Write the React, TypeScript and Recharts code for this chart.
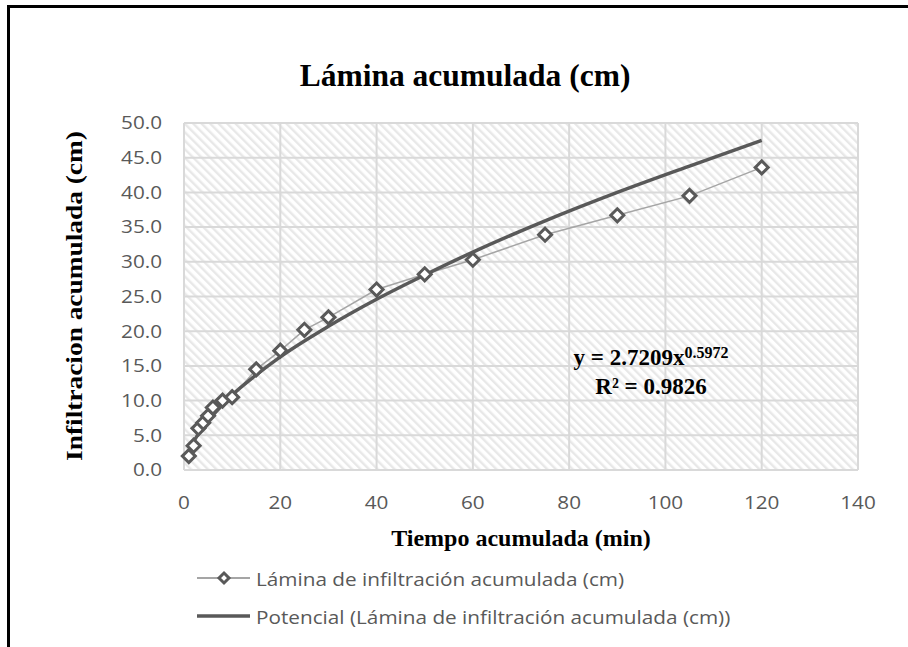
import React from 'react'
import { LineChart, Line, XAxis, YAxis, CartesianGrid } from 'recharts'

const tiempo = [1, 2, 3, 4, 5, 6, 8, 10, 15, 20, 25, 30, 40, 50, 60, 75, 90, 105, 120]
const lamina = [2.0, 3.5, 6.0, 6.8, 7.8, 9.0, 10.0, 10.5, 14.5, 17.2, 20.2, 22.0, 26.0, 28.2, 30.3, 33.9, 36.7, 39.5, 43.6]

// línea de tendencia potencial
const tiempoTendencia = [1, 2, 3, 5, 8, 10, 15, 20, 30, 40, 50, 60, 75, 90, 105, 120]
const laminaTendencia = [2.7, 4.1, 5.2, 7.1, 9.4, 10.8, 13.7, 16.3, 20.7, 24.6, 28.1, 31.4, 35.9, 40.0, 43.8, 47.5]

const xTicks = [0, 20, 40, 60, 80, 100, 120, 140]
const yTicks = [0, 5, 10, 15, 20, 25, 30, 35, 40, 45, 50]

const nombreSerie = 'Lámina de infiltración acumulada (cm)'
const nombreTendencia = 'Potencial (Lámina de infiltración acumulada (cm))'

const puntos = tiempo.map((t, i) => ({ t, v: lamina[i] }))
const tendencia = tiempoTendencia.map((t, i) => ({ t, v: laminaTendencia[i] }))

const gris = '#595959'
const serif = '"Liberation Serif", "Times New Roman", serif'
const sans = '"Open Sans", sans-serif'

const Diamond = (props: any) => {
  const { cx, cy, index } = props
  const r = 6.5
  return (
    <path
      key={`d-${index}`}
      d={`M${cx},${cy - r}L${cx + r},${cy}L${cx},${cy + r}L${cx - r},${cy}Z`}
      fill="#fff"
      stroke={gris}
      strokeWidth={3}
    />
  )
}

// etiquetas un poco ensanchadas, como en la imagen original
const TickX = (props: any) => {
  const { x, y, payload } = props
  return (
    <text transform={`translate(${x},${y}) scale(1.15,1)`} textAnchor="middle" dy="0.71em" fill={gris} fontSize={18} fontFamily={sans}>
      {payload.value}
    </text>
  )
}

const TickY = (props: any) => {
  const { x, y, payload } = props
  return (
    <text transform={`translate(${x},${y}) scale(1.15,1)`} textAnchor="end" dy="0.355em" fill={gris} fontSize={18} fontFamily={sans}>
      {Number(payload.value).toFixed(1)}
    </text>
  )
}

const textoLeyenda: React.CSSProperties = {
  whiteSpace: 'nowrap',
  display: 'inline-block',
  transform: 'scaleX(1.12)',
  transformOrigin: 'left center',
}

const Leyenda = () => (
  <div style={{ position: 'absolute', left: 197, top: 559, fontFamily: sans, fontSize: 18.5, color: gris }}>
    <div style={{ display: 'flex', alignItems: 'center', height: 38 }}>
      <svg width={59} height={20} style={{ flex: 'none' }}>
        <line x1={0} y1={10} x2={53} y2={10} stroke="#a5a5a5" strokeWidth={2} />
        <path d="M27,5L32,10L27,15L22,10Z" fill="#fff" stroke={gris} strokeWidth={3} />
      </svg>
      <span style={textoLeyenda}>{nombreSerie}</span>
    </div>
    <div style={{ display: 'flex', alignItems: 'center', height: 38 }}>
      <svg width={59} height={20} style={{ flex: 'none' }}>
        <line x1={0} y1={10} x2={53} y2={10} stroke={gris} strokeWidth={3.5} />
      </svg>
      <span style={textoLeyenda}>{nombreTendencia}</span>
    </div>
  </div>
)

export default function App() {
  return (
    <div style={{ position: 'absolute', left: 0, top: 0, width: 908, height: 647, background: '#fff', overflow: 'hidden' }}>
      <div
        style={{
          position: 'absolute',
          left: 7,
          top: 5,
          width: 910,
          height: 660,
          borderTop: '3px solid #000',
          borderLeft: '3px solid #000',
        }}
      />
      <LineChart
        width={908}
        height={647}
        margin={{ top: 123, right: 50, bottom: 147, left: 124 }}
        style={{ position: 'absolute', left: 0, top: 0 }}
      >
        <defs>
          <pattern id="hatch" patternUnits="userSpaceOnUse" width={6} height={6} patternTransform="rotate(-45)">
            <rect x={0} y={0} width={6} height={6} fill="#fff" />
            <rect x={0} y={0} width={2.4} height={6} fill="#e8e8e8" />
          </pattern>
        </defs>
        <CartesianGrid fill="url(#hatch)" stroke="#d9d9d9" strokeWidth={2} fillOpacity={1} />
        <XAxis
          dataKey="t"
          type="number"
          domain={[0, 140]}
          ticks={xTicks}
          axisLine={false}
          tickLine={false}
          tickSize={6}
          tickMargin={20}
          height={30}
          tick={<TickX />}
        />
        <YAxis
          type="number"
          domain={[0, 50]}
          ticks={yTicks}
          axisLine={false}
          tickLine={false}
          width={60}
          tickSize={6}
          tickMargin={16}
          tick={<TickY />}
        />
        <Line
          data={puntos}
          dataKey="v"
          name={nombreSerie}
          type="linear"
          stroke="#a5a5a5"
          strokeWidth={1.5}
          dot={Diamond}
          activeDot={false}
          isAnimationActive={false}
        />
        <Line
          data={tendencia}
          dataKey="v"
          name={nombreTendencia}
          type="monotone"
          stroke={gris}
          strokeWidth={3.5}
          dot={false}
          activeDot={false}
          isAnimationActive={false}
        />
      </LineChart>

      <Leyenda />

      <div
        style={{
          position: 'absolute',
          left: 465,
          top: 60,
          transform: 'translateX(-50%)',
          whiteSpace: 'nowrap',
          fontFamily: serif,
          fontWeight: 'bold',
          fontSize: 31.5,
          lineHeight: 1,
          color: '#000',
        }}
      >
        Lámina acumulada (cm)
      </div>

      <div
        style={{
          position: 'absolute',
          left: 74,
          top: 296,
          transform: 'translate(-50%, -50%) rotate(-90deg) scaleX(1.14)',
          whiteSpace: 'nowrap',
          fontFamily: serif,
          fontWeight: 'bold',
          fontSize: 24,
          lineHeight: 1,
          color: '#000',
        }}
      >
        Infiltracion acumulada (cm)
      </div>

      <div
        style={{
          position: 'absolute',
          left: 521,
          top: 526,
          transform: 'translateX(-50%)',
          whiteSpace: 'nowrap',
          fontFamily: serif,
          fontWeight: 'bold',
          fontSize: 24,
          lineHeight: 1,
          color: '#000',
        }}
      >
        Tiempo acumulada (min)
      </div>

      <div
        style={{
          position: 'absolute',
          left: 651,
          top: 343,
          transform: 'translateX(-50%)',
          whiteSpace: 'nowrap',
          textAlign: 'center',
          fontFamily: serif,
          fontWeight: 'bold',
          fontSize: 23,
          lineHeight: '29px',
          color: '#000',
        }}
      >
        <div>
          y = 2.7209x
          <span style={{ fontSize: 16, position: 'relative', top: -7, lineHeight: 0 }}>0.5972</span>
        </div>
        <div>R² = 0.9826</div>
      </div>
    </div>
  )
}
